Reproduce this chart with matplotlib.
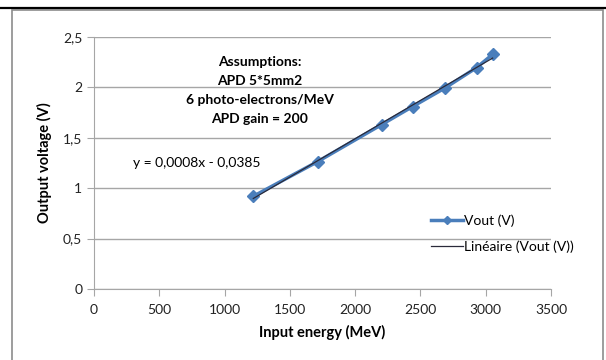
import numpy as np
import matplotlib.pyplot as plt
from matplotlib.patches import Rectangle
from matplotlib.lines import Line2D
from matplotlib.ticker import FuncFormatter

plt.rcParams['font.family'] = ['Lato', 'DejaVu Sans']

energy = [1220, 1713, 2203, 2440, 2688, 2930, 3053]
vout = [0.92, 1.264, 1.631, 1.81, 1.994, 2.196, 2.328]
notes = ["Assumptions:", "APD 5*5mm2", "6 photo-electrons/MeV", "APD gain = 200"]

blue = '#4a7ebb'
grid_c = '#a6a6a6'

fig = plt.figure(figsize=(6.06, 3.6), dpi=100)
ax = fig.add_axes([94 / 606, 1 - 289 / 360, (551 - 94) / 606, (289 - 37) / 360])

# outer chart frame + top black rule
fig.add_artist(Rectangle((12 / 606, -0.1), (603 - 12) / 606, 1.1 - 10 / 360,
                         transform=fig.transFigure, fill=False,
                         edgecolor='#8c8c8c', linewidth=1.2))
fig.add_artist(Line2D([0, 1], [1 - 8 / 360, 1 - 8 / 360],
                      transform=fig.transFigure, color='black', linewidth=1.6))

ax.plot(energy, vout, color=blue, linewidth=2.5, marker='D', markersize=6,
        label='Vout (V)', zorder=3)

# linear trend line
slope, icpt = np.polyfit(energy, vout, 1)
xs = np.array([min(energy), max(energy)])
ax.plot(xs, slope * xs + icpt, color='#2a2a3a', linewidth=0.9,
        label='Linéaire (Vout (V))', zorder=4)

ax.set_xlim(0, 3500)
ax.set_ylim(0, 2.5)
ax.set_xticks(np.arange(0, 3501, 500))
ax.set_yticks(np.arange(0, 2.51, 0.5))
ax.yaxis.set_major_formatter(FuncFormatter(lambda v, p: ('%g' % v).replace('.', ',')))
ax.grid(axis='y', color=grid_c, linewidth=1)
ax.set_axisbelow(True)
for s in ['top', 'right']:
    ax.spines[s].set_visible(False)
for s in ['left', 'bottom']:
    ax.spines[s].set_color(grid_c)
ax.tick_params(colors=grid_c, labelcolor='#222222', labelsize=10, length=5)
ax.tick_params(axis='x', pad=6)

ax.set_xlabel('Input energy (MeV)', fontsize=10.5, fontweight='bold', labelpad=6)
ax.set_ylabel('Output voltage (V)', fontsize=10.5, fontweight='bold', labelpad=8)

ax.text(1270, 1.97, '\n'.join(notes), ha='center', va='center',
        fontsize=10, fontweight='bold', linespacing=1.72)
ax.text(790, 1.25, 'y = 0,0008x - 0,0385', ha='center', va='center', fontsize=10)

ax.legend(loc='center left', bbox_to_anchor=(0.71, 0.22), frameon=False,
          fontsize=10, handlelength=2.3, handletextpad=0.1, labelspacing=1.0,
          markerscale=0.75)

fig.savefig('out.png', dpi=100)
